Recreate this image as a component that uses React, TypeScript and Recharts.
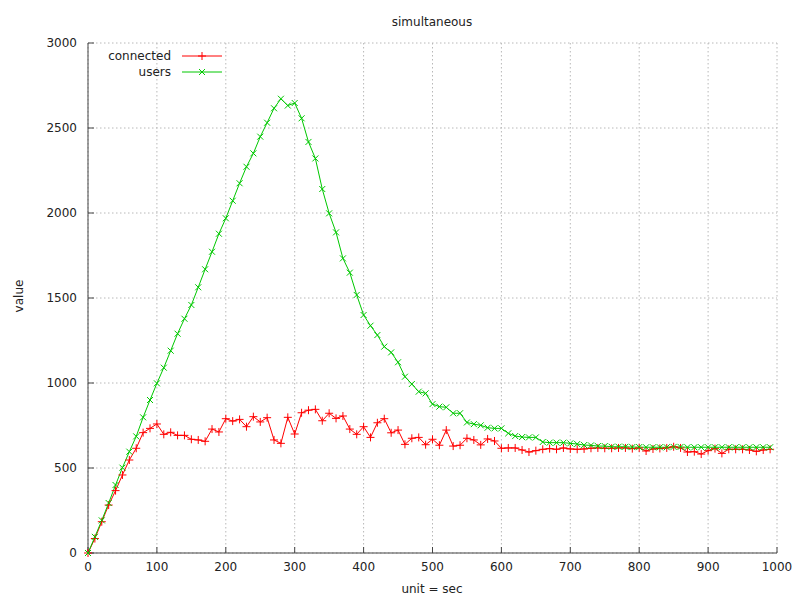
import { LineChart, Line, XAxis, YAxis, CartesianGrid, Legend } from 'recharts';

// x values (seconds)
const times = [
  0, 10, 20, 30, 40, 50, 60, 70, 80, 90,
  100, 110, 120, 130, 140, 150, 160, 170, 180, 190,
  200, 210, 220, 230, 240, 250, 260, 270, 280, 290,
  300, 310, 320, 330, 340, 350, 360, 370, 380, 390,
  400, 410, 420, 430, 440, 450, 460, 470, 480, 490,
  500, 510, 520, 530, 540, 550, 560, 570, 580, 590,
  600, 610, 620, 630, 640, 650, 660, 670, 680, 690,
  700, 710, 720, 730, 740, 750, 760, 770, 780, 790,
  800, 810, 820, 830, 840, 850, 860, 870, 880, 890,
  900, 910, 920, 930, 940, 950, 960, 970, 980, 990,
];

const connected = [
  0, 85, 184, 282, 367, 459, 547, 616, 708, 733,
  759, 698, 710, 692, 692, 669, 665, 657, 729, 712,
  790, 776, 786, 743, 802, 771, 796, 665, 645, 798,
  700, 825, 840, 845, 778, 822, 792, 806, 729, 698,
  743, 680, 766, 790, 707, 723, 639, 675, 680, 637,
  669, 634, 723, 629, 634, 675, 665, 636, 671, 659,
  616, 618, 618, 606, 594, 602, 610, 614, 610, 618,
  612, 610, 612, 616, 618, 616, 616, 618, 618, 614,
  618, 600, 612, 615, 618, 625, 618, 594, 596, 582,
  602, 614, 586, 610, 610, 610, 606, 598, 606, 610,
];

const users = [
  0, 95, 192, 294, 400, 502, 596, 686, 798, 900,
  998, 1090, 1190, 1290, 1378, 1459, 1563, 1669, 1772, 1878,
  1969, 2072, 2175, 2272, 2351, 2449, 2531, 2616, 2672, 2632,
  2647, 2557, 2418, 2321, 2141, 1998, 1886, 1733, 1649, 1518,
  1400, 1337, 1282, 1214, 1180, 1122, 1037, 994, 949, 939,
  876, 861, 857, 822, 822, 768, 758, 751, 737, 733,
  733, 704, 688, 682, 680, 680, 653, 649, 649, 649,
  645, 641, 635, 633, 629, 629, 625, 625, 625, 623,
  623, 622, 622, 622, 622, 624, 624, 622, 622, 622,
  622, 622, 622, 622, 622, 622, 622, 622, 622, 622,
];

const xTicks = [0, 100, 200, 300, 400, 500, 600, 700, 800, 900, 1000];
const yTicks = [0, 500, 1000, 1500, 2000, 2500, 3000];

const data = times.map((t, i) => ({ t, connected: connected[i], users: users[i] }));

const RED = '#ff0000';
const GREEN = '#00c800';
const TEXT = '#222';

function plusPath(cx: number, cy: number, r: number) {
  return `M${cx - r},${cy}H${cx + r}M${cx},${cy - r}V${cy + r}`;
}

function crossPath(cx: number, cy: number, r: number) {
  return `M${cx - r},${cy - r}L${cx + r},${cy + r}M${cx - r},${cy + r}L${cx + r},${cy - r}`;
}

const PlusDot = (props: any) => {
  const { cx, cy, index } = props;
  if (cx == null || cy == null) return <g key={`p-${index}`} />;
  return <path key={`p-${index}`} d={plusPath(cx, cy, 4)} stroke={RED} strokeWidth={1} fill="none" />;
};

const CrossDot = (props: any) => {
  const { cx, cy, index } = props;
  if (cx == null || cy == null) return <g key={`x-${index}`} />;
  return <path key={`x-${index}`} d={crossPath(cx, cy, 3)} stroke={GREEN} strokeWidth={1} fill="none" />;
};

const blankTick = () => <g />;

function renderLegend(props: any) {
  const payload = props.payload || [];
  return (
    <svg width={240} height={40}>
      {payload.map((entry: any, i: number) => {
        const y = 12 + i * 16;
        const isUsers = entry.dataKey === 'users';
        return (
          <g key={entry.value}>
            <text x={171} y={y} textAnchor="end" dominantBaseline="central" fontSize={12} fill={TEXT}>
              {entry.value}
            </text>
            <line x1={182} x2={222} y1={y} y2={y} stroke={entry.color} strokeWidth={1} />
            <path
              d={isUsers ? crossPath(202, y, 3) : plusPath(202, y, 4)}
              stroke={entry.color}
              strokeWidth={1}
              fill="none"
            />
          </g>
        );
      })}
    </svg>
  );
}

export default function App() {
  return (
    <div
      style={{
        position: 'absolute',
        left: 0,
        top: 0,
        width: 800,
        height: 600,
        background: '#fff',
        fontFamily: '"DejaVu Sans", sans-serif',
      }}
    >
      <LineChart width={800} height={600} data={data} margin={{ top: 43, right: 23, bottom: 0, left: 0 }}>
        <CartesianGrid stroke="#b8b8b8" strokeDasharray="1.5 2.5" />
        <XAxis
          dataKey="t"
          type="number"
          domain={[0, 1000]}
          ticks={xTicks}
          height={47}
          tickSize={-6}
          tickMargin={15}
          stroke="#444"
          tick={{ fontSize: 12, fill: TEXT }}
        />
        <XAxis
          xAxisId="top"
          orientation="top"
          dataKey="t"
          type="number"
          domain={[0, 1000]}
          ticks={xTicks}
          height={0}
          tickSize={-6}
          stroke="#444"
          tick={blankTick}
        />
        <YAxis
          type="number"
          domain={[0, 3000]}
          ticks={yTicks}
          width={88}
          tickSize={-6}
          tickMargin={17}
          stroke="#444"
          tick={{ fontSize: 12, fill: TEXT }}
        />
        <YAxis
          yAxisId="right"
          orientation="right"
          type="number"
          domain={[0, 3000]}
          ticks={yTicks}
          width={0}
          tickSize={-6}
          stroke="#444"
          tick={blankTick}
        />
        <Legend
          layout="vertical"
          align="center"
          verticalAlign="middle"
          wrapperStyle={{ left: 0, top: 44, width: 240, height: 40 }}
          content={renderLegend}
        />
        <Line
          type="linear"
          dataKey="connected"
          name="connected"
          stroke={RED}
          strokeWidth={1}
          dot={PlusDot}
          isAnimationActive={false}
        />
        <Line
          type="linear"
          dataKey="users"
          name="users"
          stroke={GREEN}
          strokeWidth={1}
          dot={CrossDot}
          isAnimationActive={false}
        />
      </LineChart>
      <svg
        width={800}
        height={600}
        style={{ position: 'absolute', left: 0, top: 0, pointerEvents: 'none' }}
      >
        <text x={432} y={26} textAnchor="middle" fontSize={12} fill={TEXT}>
          simultaneous
        </text>
        <text x={432} y={593} textAnchor="middle" fontSize={12} fill={TEXT}>
          unit = sec
        </text>
        <text
          x={23}
          y={296}
          textAnchor="middle"
          fontSize={12}
          fill={TEXT}
          transform="rotate(-90 23 296)"
        >
          value
        </text>
      </svg>
    </div>
  );
}
